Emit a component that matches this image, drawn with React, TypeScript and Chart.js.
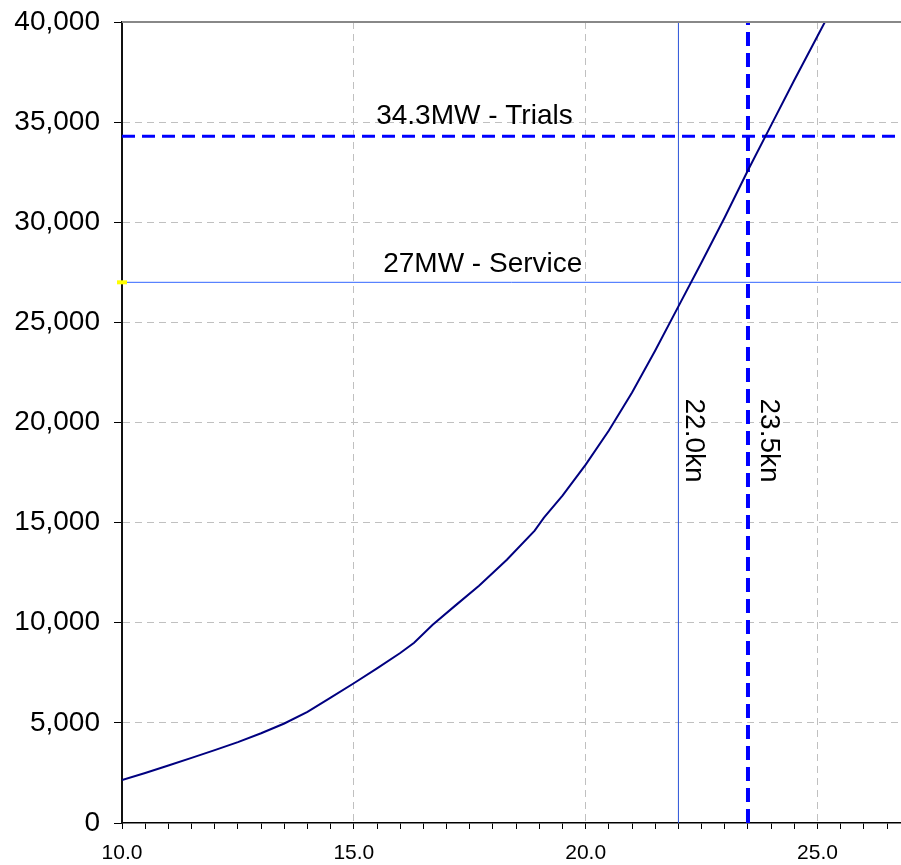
import { useEffect, useRef } from 'react';
import { Chart, registerables } from 'chart.js';

Chart.register(...registerables);

// ---- data ----
const SPEED_KN = [10.0, 10.5, 11.0, 11.5, 12.0, 12.5, 13.0, 13.5, 14.0, 14.5, 15.0, 15.5, 16.0, 16.3, 16.7, 17.2, 17.7, 18.3, 18.9, 19.1, 19.5, 20.0, 20.5, 21.0, 21.5, 22.0, 22.5, 23.0, 23.5, 24.0, 24.5, 25.0, 25.5];
const POWER_KW = [2150, 2500, 2870, 3250, 3640, 4040, 4480, 4970, 5550, 6260, 6980, 7720, 8490, 9000, 9900, 10880, 11850, 13150, 14600, 15250, 16350, 17900, 19600, 21500, 23600, 25800, 28000, 30250, 32600, 34850, 37100, 39300, 41500];

const X_MIN = 10;
const X_MAX = 26.8;
const X_LABEL_STEP = 5;
const X_MINOR_STEP = 0.5;
const Y_MIN = 0;
const Y_MAX = 40000;
const Y_STEP = 5000;

const TRIALS_POWER = 34300;
const SERVICE_POWER = 27000;
const SERVICE_SPEED = 22.0;
const TRIALS_SPEED = 23.5;

const TRIALS_LABEL = '34.3MW - Trials';
const SERVICE_LABEL = '27MW - Service';
const SERVICE_SPEED_LABEL = '22.0kn';
const TRIALS_SPEED_LABEL = '23.5kn';

// label anchor positions in data units
const TRIALS_LABEL_X = 17.6;
const SERVICE_LABEL_X = 17.78;
const SERVICE_SPEED_LABEL_X = 22.34;
const TRIALS_SPEED_LABEL_X = 23.95;
const SPEED_LABELS_Y = 19100;

const FONT = "'Liberation Sans', Arial, sans-serif";

const annotationPlugin = {
  id: 'annotations',
  afterDatasetsDraw(chart: any) {
    const { ctx, chartArea, scales } = chart;
    const xs = scales.x;
    const ys = scales.y;
    ctx.save();
    ctx.strokeStyle = '#888888';
    ctx.lineWidth = 2;
    ctx.beginPath();
    ctx.moveTo(chartArea.left, chartArea.top);
    ctx.lineTo(chartArea.right, chartArea.top);
    ctx.stroke();

    ctx.fillStyle = '#000';
    ctx.font = `28px ${FONT}`;
    ctx.textAlign = 'center';
    ctx.textBaseline = 'alphabetic';
    ctx.fillText(TRIALS_LABEL, xs.getPixelForValue(TRIALS_LABEL_X), ys.getPixelForValue(TRIALS_POWER) - 12);
    ctx.fillText(SERVICE_LABEL, xs.getPixelForValue(SERVICE_LABEL_X), ys.getPixelForValue(SERVICE_POWER) - 10);

    const drawRot = (text: string, xv: number, yv: number) => {
      ctx.save();
      ctx.translate(xs.getPixelForValue(xv), ys.getPixelForValue(yv));
      ctx.rotate(Math.PI / 2);
      ctx.textAlign = 'center';
      ctx.textBaseline = 'middle';
      ctx.fillText(text, 0, 0);
      ctx.restore();
    };
    drawRot(SERVICE_SPEED_LABEL, SERVICE_SPEED_LABEL_X, SPEED_LABELS_Y);
    drawRot(TRIALS_SPEED_LABEL, TRIALS_SPEED_LABEL_X, SPEED_LABELS_Y);
    ctx.restore();
  },
};

const isMajorX = (n: number) => Math.abs(n / X_LABEL_STEP - Math.round(n / X_LABEL_STEP)) < 1e-6;

export default function App() {
  const ref = useRef<HTMLCanvasElement>(null);

  useEffect(() => {
    if (!ref.current) return;
    const curve = SPEED_KN.map((x, i) => ({ x, y: POWER_KW[i] }));
    const chart = new Chart(ref.current, {
      type: 'line',
      data: {
        datasets: [
          {
            data: [{ x: X_MIN, y: SERVICE_POWER }],
            showLine: false,
            pointStyle: 'rect',
            pointRadius: 0,
            borderWidth: 0,
            pointBorderWidth: 0,
            pointBackgroundColor: '#ffff00',
            clip: false,
          } as any,
          {
            data: curve,
            borderColor: '#000080',
            borderWidth: 2,
            pointRadius: 0,
            tension: 0,
            fill: false,
          },
          {
            data: [{ x: X_MIN, y: TRIALS_POWER }, { x: X_MAX, y: TRIALS_POWER }],
            borderColor: '#0000ff',
            borderWidth: 3,
            borderDash: [13, 7],
            pointRadius: 0,
            fill: false,
          },
          {
            data: [{ x: TRIALS_SPEED, y: Y_MIN }, { x: TRIALS_SPEED, y: Y_MAX }],
            borderColor: '#0000ff',
            borderWidth: 4,
            borderDash: [14, 7],
            pointRadius: 0,
            fill: false,
          },
          {
            data: [{ x: X_MIN, y: SERVICE_POWER }, { x: X_MAX, y: SERVICE_POWER }],
            borderColor: '#3366ff',
            borderWidth: 1,
            pointRadius: 0,
            fill: false,
          },
          {
            data: [{ x: SERVICE_SPEED, y: Y_MIN }, { x: SERVICE_SPEED, y: Y_MAX }],
            borderColor: '#2a52d8',
            borderWidth: 1,
            pointRadius: 0,
            fill: false,
          },
        ],
      },
      options: {
        responsive: false,
        animation: false,
        layout: { autoPadding: false, padding: { top: 22, left: 0, right: 0, bottom: 0 } },
        plugins: { legend: { display: false }, tooltip: { enabled: false } },
        scales: {
          x: {
            type: 'linear',
            min: X_MIN,
            max: X_MAX,
            afterFit: (s: any) => {
              s.height = 42;
              s.paddingLeft = 0;
              s.paddingRight = 0;
              s.paddingTop = 0;
              s.paddingBottom = 0;
            },
            ticks: {
              stepSize: X_MINOR_STEP,
              includeBounds: false,
              autoSkip: false,
              maxRotation: 0,
              padding: 12,
              color: '#000',
              font: { family: FONT, size: 21 },
              callback: (v: any) => {
                const n = Number(v);
                return isMajorX(n) ? n.toFixed(1) : '';
              },
            },
            grid: {
              color: (c: any) => {
                const n = c.tick ? c.tick.value : 0;
                return isMajorX(n) && n !== X_MIN ? '#c0c0c0' : 'rgba(0,0,0,0)';
              },
              tickColor: '#000',
              tickLength: 6,
              lineWidth: 1,
            },
            border: { display: true, color: '#000', width: 1.5, dash: [7, 5] },
          },
          y: {
            type: 'linear',
            min: Y_MIN,
            max: Y_MAX,
            afterFit: (s: any) => {
              s.width = 122;
              s.paddingLeft = 0;
              s.paddingRight = 0;
              s.paddingTop = 0;
              s.paddingBottom = 0;
            },
            ticks: {
              stepSize: Y_STEP,
              padding: 14,
              color: '#000',
              font: { family: FONT, size: 28 },
              callback: (v: any) => Number(v).toLocaleString('en-US'),
            },
            grid: {
              color: (c: any) => {
                const n = c.tick ? c.tick.value : 0;
                return n === Y_MIN || n === Y_MAX ? 'rgba(0,0,0,0)' : '#c0c0c0';
              },
              tickColor: '#000',
              tickLength: 8,
              lineWidth: 1,
            },
            border: { display: true, color: '#111', width: 2, dash: [7, 5] },
          },
        },
      },
      plugins: [
        annotationPlugin,
        {
          id: 'serviceMarker',
          afterDraw(chart: any) {
            // yellow marker at the service power on the y axis, positioned via scales
            const { ctx, scales } = chart;
            const px = scales.x.getPixelForValue(X_MIN);
            const py = scales.y.getPixelForValue(SERVICE_POWER);
            ctx.save();
            ctx.fillStyle = '#ffff00';
            ctx.fillRect(px - 5, py - 2, 10, 4);
            ctx.restore();
          },
        },
      ],
    } as any);
    return () => chart.destroy();
  }, []);

  return (
    <div style={{ position: 'absolute', left: 0, top: 0, width: 901, height: 865, background: '#fff' }}>
      <canvas ref={ref} width={901} height={865} style={{ display: 'block' }} />
    </div>
  );
}
